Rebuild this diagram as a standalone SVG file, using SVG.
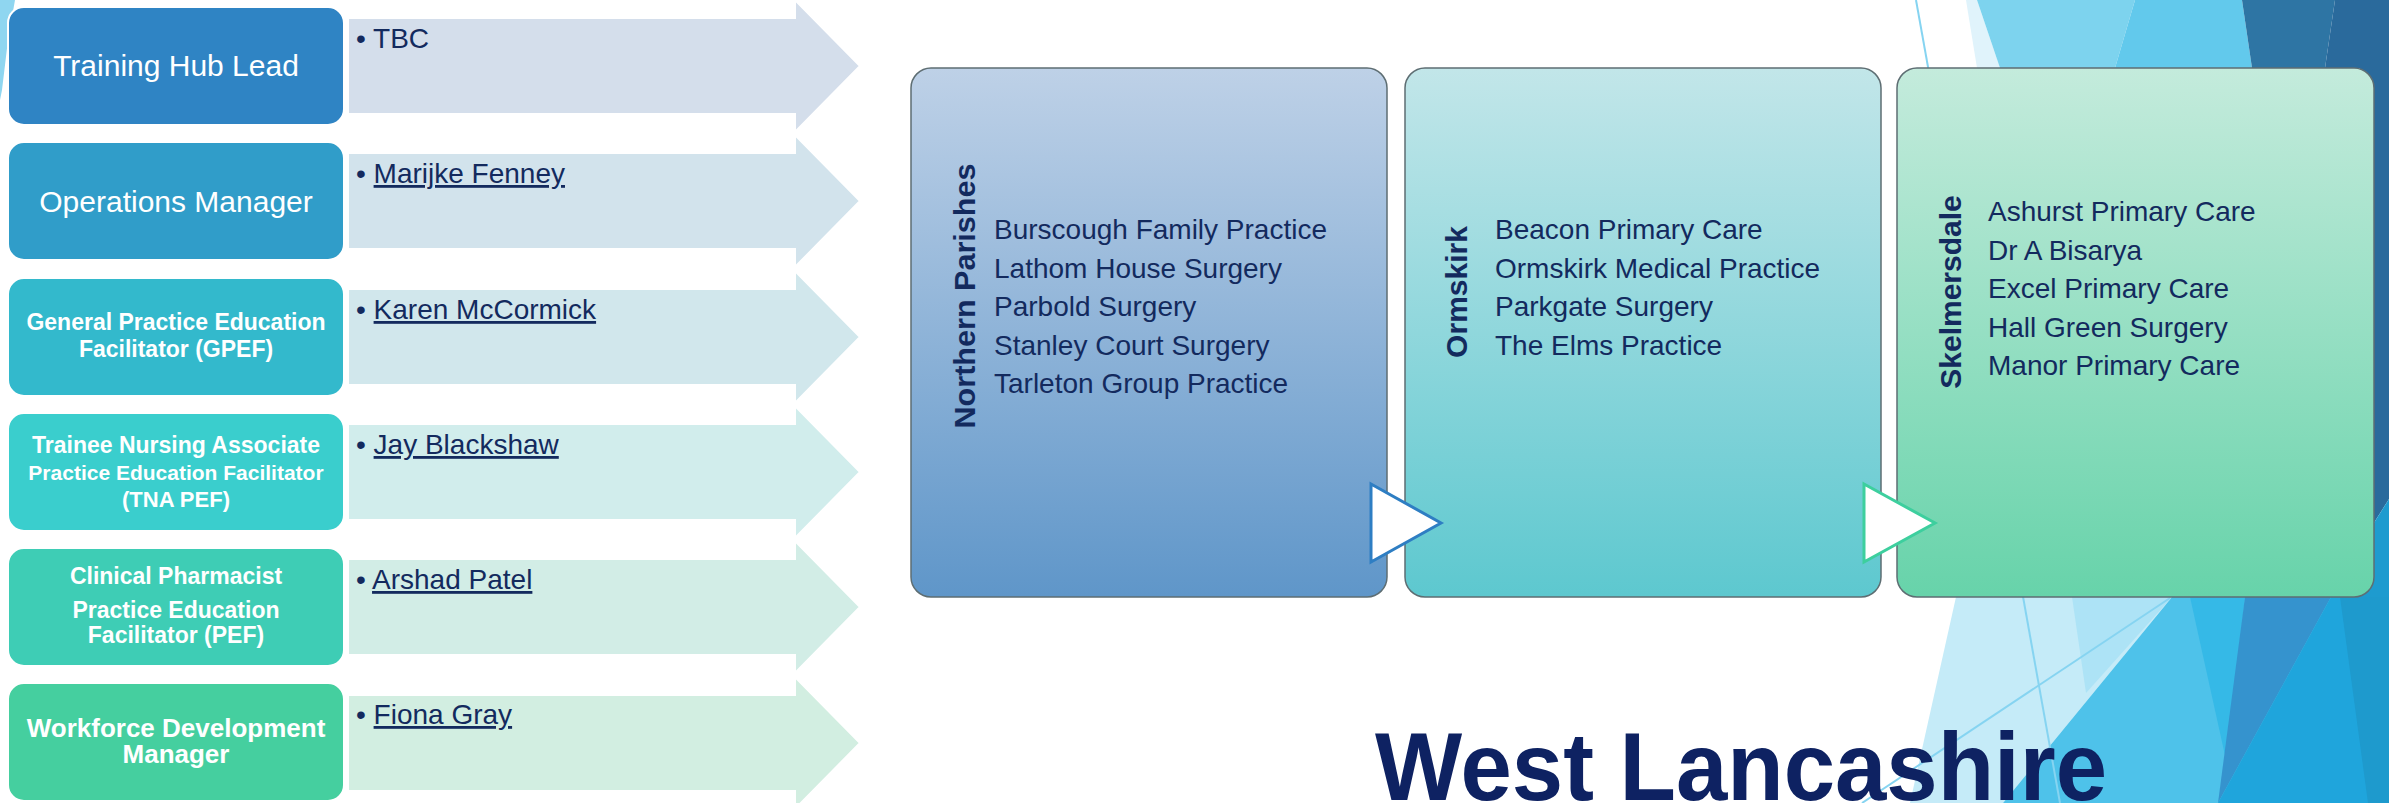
<svg xmlns="http://www.w3.org/2000/svg" width="2389" height="803" viewBox="0 0 2389 803">
<defs>
<style>
.role{fill:#fff;font-family:"Liberation Sans",Arial,sans-serif;text-anchor:middle}
.rb{font-weight:bold}
.nm{fill:#132A5E;font-family:"Liberation Sans",Arial,sans-serif;font-size:28px}
.ul{text-decoration:underline}
.lst{fill:#132A5E;font-family:"Liberation Sans",Arial,sans-serif;font-size:28px}
.ttl{fill:#132A5E;font-family:"Liberation Sans",Arial,sans-serif;font-size:30px;font-weight:bold;text-anchor:middle}
.box{stroke:#fff;stroke-width:2}
.arr{stroke:#fff;stroke-width:2}
.col{stroke:#5E6E73;stroke-width:1.5}
.deco-line{stroke:#86D4F1;stroke-width:2;fill:none}
</style>
<linearGradient id="gNP" x1="0" y1="0" x2="0" y2="1"><stop offset="0" stop-color="#BED1E7"/><stop offset="1" stop-color="#5F96C9"/></linearGradient>
<linearGradient id="gOR" x1="0" y1="0" x2="0" y2="1"><stop offset="0" stop-color="#C2E6E9"/><stop offset="1" stop-color="#5DC8CF"/></linearGradient>
<linearGradient id="gSK" x1="0" y1="0" x2="0" y2="1"><stop offset="0" stop-color="#C4EBDC"/><stop offset="1" stop-color="#67D3AA"/></linearGradient>
</defs>
<rect width="2389" height="803" fill="#fff"/>
<g id="background">
<polygon points="0,0 15,0 8,40 2,90 0,100" fill="#8FD6F0"/>
<polygon points="1966,0 1977,0 2000,68 1977,68" fill="#E0F3FB"/>
<polygon points="1977,0 2135,0 2115,68 2000,68" fill="#7DD3EE"/>
<polygon points="2135,0 2242,0 2252,68 2115,68" fill="#62C9EC"/>
<polygon points="2242,0 2335,0 2325,68 2252,68" fill="#2E75A4"/>
<polygon points="2335,0 2389,0 2389,68 2325,68" fill="#2A6A9C"/>
<polygon points="2360,68 2389,68 2389,499 2360,545" fill="#2A6A9C"/>
<polygon points="2360,545 2389,499 2389,600 2360,600" fill="#1E9BCF"/>
<polygon points="1956,597 2172,597 2003,803 1910,803" fill="#C5EBF8"/>
<polygon points="2072,597 2172,597 2086,693" fill="#ADE3F6"/>
<polygon points="2172,597 2389,597 2389,803 2003,803" fill="#4EC2EA"/>
<polygon points="2190,597 2245,597 2226,760" fill="#35B9E7"/>
<polygon points="2245,597 2331,597 2218,803" fill="#3593CE"/>
<polygon points="2331,597 2389,597 2389,803 2218,803" fill="#1FA5DC"/>
<polygon points="2340,597 2389,597 2389,803 2368,803" fill="#1E9ACD"/>
<line class="deco-line" x1="1916" y1="0" x2="2060" y2="803"/>
<line class="deco-line" x1="2170" y1="598" x2="1862" y2="803"/>
</g>
<g id="connectors">
<polygon class="arr" points="348,18 795,18 795,0 860,66 795,132 795,114 348,114" fill="#D4DEEB"/>
<polygon class="arr" points="348,153 795,153 795,135 860,201 795,267 795,249 348,249" fill="#D2E3EC"/>
<polygon class="arr" points="348,289 795,289 795,271 860,337 795,403 795,385 348,385" fill="#D1E7EC"/>
<polygon class="arr" points="348,424 795,424 795,406 860,472 795,538 795,520 348,520" fill="#D1EDEC"/>
<polygon class="arr" points="348,559 795,559 795,541 860,607 795,673 795,655 348,655" fill="#D2EDE6"/>
<polygon class="arr" points="348,695 795,695 795,677 860,743 795,809 795,791 348,791" fill="#D2EEE1"/>
</g>
<g id="role-lead">
<rect class="box" x="8" y="7" width="336" height="118" rx="16" fill="#2F84C4"/>
<text class="role" x="176" y="76" font-size="30">Training Hub Lead</text>
<text class="nm" x="356" y="48">• TBC</text>
</g>
<g id="role-ops">
<rect class="box" x="8" y="142" width="336" height="118" rx="16" fill="#309DC9"/>
<text class="role" x="176" y="212" font-size="30">Operations Manager</text>
<text class="nm" x="356" y="183">• <tspan class="ul">Marijke Fenney</tspan></text>
</g>
<g id="role-gpef">
<rect class="box" x="8" y="278" width="336" height="118" rx="16" fill="#33B9CC"/>
<text class="role rb" x="176" y="330" font-size="23">General Practice Education</text>
<text class="role rb" x="176" y="357" font-size="23">Facilitator (GPEF)</text>
<text class="nm" x="356" y="319">• <tspan class="ul">Karen McCormick</tspan></text>
</g>
<g id="role-tna">
<rect class="box" x="8" y="413" width="336" height="118" rx="16" fill="#3ACECD"/>
<text class="role rb" x="176" y="453" font-size="23">Trainee Nursing Associate</text>
<text class="role rb" x="176" y="480" font-size="21">Practice Education Facilitator</text>
<text class="role rb" x="176" y="507" font-size="22">(TNA PEF)</text>
<text class="nm" x="356" y="454">• <tspan class="ul">Jay Blackshaw</tspan></text>
</g>
<g id="role-pef">
<rect class="box" x="8" y="548" width="336" height="118" rx="16" fill="#3ECDB5"/>
<text class="role rb" x="176" y="584" font-size="23">Clinical Pharmacist</text>
<text class="role rb" x="176" y="618" font-size="23">Practice Education</text>
<text class="role rb" x="176" y="643" font-size="23">Facilitator (PEF)</text>
<text class="nm" x="356" y="589">• <tspan class="ul">Arshad Patel</tspan></text>
</g>
<g id="role-wdm">
<rect class="box" x="8" y="683" width="336" height="118" rx="16" fill="#45CF9F"/>
<text class="role rb" x="176" y="737" font-size="26">Workforce Development</text>
<text class="role rb" x="176" y="763" font-size="26">Manager</text>
<text class="nm" x="356" y="724">• <tspan class="ul">Fiona Gray</tspan></text>
</g>
<g id="area-northern-parishes">
<rect class="col" x="911" y="68" width="476" height="529" rx="20" fill="url(#gNP)"/>
<text class="ttl" x="975" y="296" transform="rotate(-90 975 296)" textLength="265" lengthAdjust="spacingAndGlyphs">Northern Parishes</text>
<text class="lst" x="994" y="239">Burscough Family Practice</text>
<text class="lst" x="994" y="278">Lathom House Surgery</text>
<text class="lst" x="994" y="316">Parbold Surgery</text>
<text class="lst" x="994" y="355">Stanley Court Surgery</text>
<text class="lst" x="994" y="393">Tarleton Group Practice</text>
</g>
<g id="area-ormskirk">
<rect class="col" x="1405" y="68" width="476" height="529" rx="20" fill="url(#gOR)"/>
<text class="ttl" x="1467" y="292" transform="rotate(-90 1467 292)">Ormskirk</text>
<text class="lst" x="1495" y="239">Beacon Primary Care</text>
<text class="lst" x="1495" y="278">Ormskirk Medical Practice</text>
<text class="lst" x="1495" y="316">Parkgate Surgery</text>
<text class="lst" x="1495" y="355">The Elms Practice</text>
</g>
<g id="area-skelmersdale">
<rect class="col" x="1897" y="68" width="477" height="529" rx="20" fill="url(#gSK)"/>
<text class="ttl" x="1961" y="292" transform="rotate(-90 1961 292)">Skelmersdale</text>
<text class="lst" x="1988" y="221">Ashurst Primary Care</text>
<text class="lst" x="1988" y="260">Dr A Bisarya</text>
<text class="lst" x="1988" y="298">Excel Primary Care</text>
<text class="lst" x="1988" y="337">Hall Green Surgery</text>
<text class="lst" x="1988" y="375">Manor Primary Care</text>
</g>
<g id="flow-arrows">
<polygon points="1371,484 1441,523 1371,562" fill="#fff" stroke="#2E7EC3" stroke-width="3"/>
<polygon points="1864,484 1935,523 1864,562" fill="#fff" stroke="#3DCF9E" stroke-width="3"/>
</g>
<g id="title">
<text x="1375" y="800" fill="#0E2262" font-family="'Liberation Sans',Arial,sans-serif" font-size="96" font-weight="bold" textLength="732" lengthAdjust="spacingAndGlyphs">West Lancashire</text>
</g>
</svg>
